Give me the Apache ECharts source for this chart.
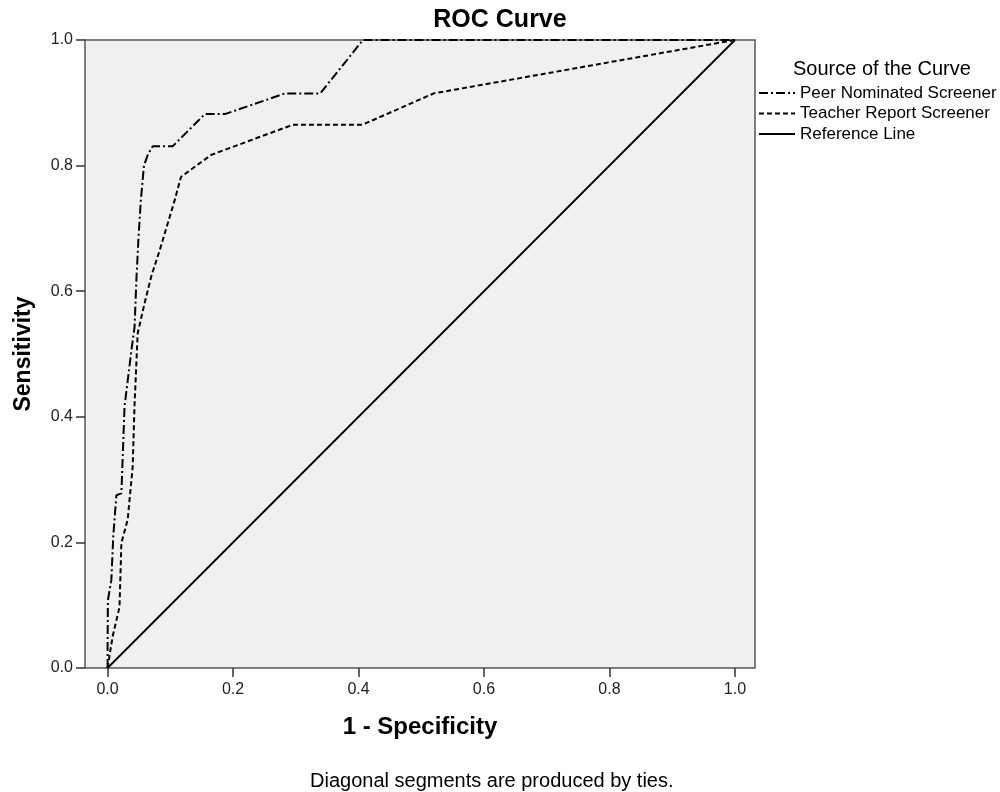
<!DOCTYPE html>
<html>
<head>
<meta charset="utf-8">
<title>ROC Curve</title>
<script src="https://cdn.jsdelivr.net/npm/echarts@6/dist/echarts.min.js"></script>
<style>
  html, body { margin: 0; padding: 0; background: #fff; }
  #chart { width: 1000px; height: 792px; }
</style>
</head>
<body>
<div id="chart"></div>
<script>
// ROC points: [1 - specificity, sensitivity]
var peerPoints = [
  [0, 0], [0, 0.03], [0.0005, 0.108], [0.006, 0.14], [0.009, 0.209], [0.014, 0.275],
  [0.022, 0.278], [0.027, 0.416], [0.038, 0.506], [0.043, 0.543], [0.046, 0.62],
  [0.049, 0.68], [0.053, 0.745], [0.058, 0.80], [0.064, 0.817], [0.072, 0.831],
  [0.086, 0.831], [0.104, 0.831], [0.155, 0.882], [0.187, 0.882], [0.283, 0.915],
  [0.339, 0.915], [0.407, 1.0], [1.0, 1.0]
];
var teacherPoints = [
  [0, 0], [0.008, 0.05], [0.019, 0.097], [0.022, 0.199], [0.032, 0.236], [0.040, 0.32],
  [0.043, 0.42], [0.048, 0.533], [0.059, 0.581], [0.07, 0.625], [0.083, 0.665],
  [0.107, 0.745], [0.117, 0.782], [0.165, 0.817], [0.295, 0.865], [0.406, 0.865],
  [0.52, 0.915], [1.0, 1.0]
];
var referencePoints = [[0, 0], [1, 1]];
var xTickValues = [0, 0.2, 0.4, 0.6, 0.8, 1.0];
var seriesNames = ['Peer Nominated Screener', 'Teacher Report Screener', 'Reference Line'];

var font = "'Liberation Sans', Arial, sans-serif";
var chart = echarts.init(document.getElementById('chart'));

var option = {
  animation: false,
  textStyle: { fontFamily: font },
  title: [{
    text: 'ROC Curve',
    left: 'center',
    top: 3,
    textStyle: { fontFamily: font, fontSize: 25, fontWeight: 'bold', color: '#000' }
  }, {
    text: 'Source of the Curve',
    left: 788,
    top: 54,
    textStyle: { fontFamily: font, fontSize: 20, fontWeight: 'normal', color: '#000' }
  }, {
    text: 'Diagonal segments are produced by ties.',
    left: 305,
    top: 766,
    textStyle: { fontFamily: font, fontSize: 20, fontWeight: 'normal', color: '#000' }
  }],
  legend: {
    orient: 'vertical',
    left: 758,
    top: 83,
    padding: 0,
    itemGap: 0.5,
    itemWidth: 36,
    itemHeight: 12,
    data: seriesNames,
    itemStyle: { opacity: 0 },
    textStyle: { fontFamily: font, fontSize: 17, color: '#000', lineHeight: 20 }
  },
  grid: {
    left: 85, right: 245, top: 40, bottom: 124,
    show: true,
    backgroundColor: '#f0f0f0',
    borderColor: '#555',
    borderWidth: 1.5
  },
  xAxis: {
    type: 'value',
    min: -0.036,
    max: 1.032,
    name: '1 - Specificity',
    nameLocation: 'middle',
    nameGap: 47,
    nameTextStyle: { fontFamily: font, fontSize: 24, fontWeight: 'bold', color: '#000' },
    axisLine: { show: false, onZero: false },
    splitLine: { show: false },
    axisTick: { show: true, length: 9, customValues: xTickValues, lineStyle: { color: '#333', width: 1.5 } },
    axisLabel: {
      customValues: xTickValues,
      margin: 14,
      fontSize: 16,
      color: '#222',
      formatter: function (v) { return v.toFixed(1); }
    }
  },
  yAxis: {
    type: 'value',
    min: 0,
    max: 1,
    interval: 0.2,
    name: 'Sensitivity',
    nameLocation: 'middle',
    nameGap: 50,
    nameTextStyle: { fontFamily: font, fontSize: 23, fontWeight: 'bold', color: '#000' },
    axisLine: { show: false, onZero: false },
    splitLine: { show: false },
    axisTick: { show: true, length: 9, lineStyle: { color: '#333', width: 1.5 } },
    axisLabel: {
      margin: 12,
      fontSize: 16,
      color: '#222',
      formatter: function (v) { return v.toFixed(1); }
    }
  },
  series: [{
    name: seriesNames[0],
    type: 'line',
    data: peerPoints,
    symbol: 'none',
    lineStyle: { color: '#000', width: 2, type: [9, 3, 2, 3] },
    itemStyle: { color: '#000' }
  }, {
    name: seriesNames[1],
    type: 'line',
    data: teacherPoints,
    symbol: 'none',
    lineStyle: { color: '#000', width: 2, type: [5, 3] },
    itemStyle: { color: '#000' }
  }, {
    name: seriesNames[2],
    type: 'line',
    data: referencePoints,
    symbol: 'none',
    lineStyle: { color: '#000', width: 1.8, type: 'solid' },
    itemStyle: { color: '#000' }
  }]
};

chart.setOption(option);
</script>
</body>
</html>
